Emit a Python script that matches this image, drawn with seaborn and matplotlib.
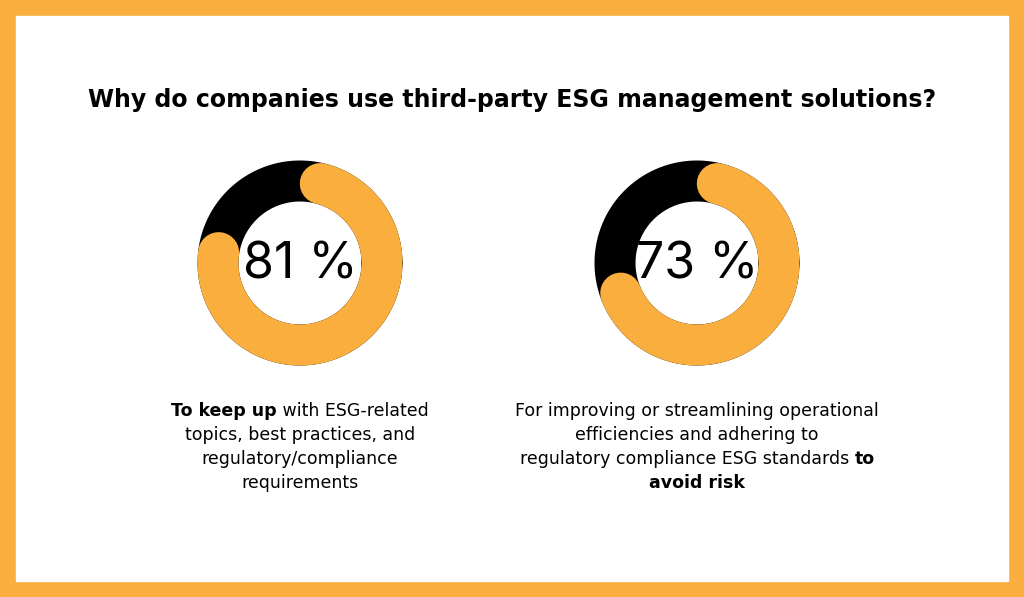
import matplotlib
matplotlib.use("Agg")
import matplotlib.pyplot as plt
import numpy as np
import seaborn as sns
from matplotlib.patches import Rectangle

sns.set_theme(style="white")
plt.rcParams["font.family"] = "DejaVu Sans"

title = "Why do companies use third-party ESG management solutions?"
values = [81, 73]
labels = ["81 %", "73 %"]
captions = [
    [[("To keep up", True), (" with ESG-related", False)],
     [("topics, best practices, and", False)],
     [("regulatory/compliance", False)],
     [("requirements", False)]],
    [[("For improving or streamlining operational", False)],
     [("efficiencies and adhering to", False)],
     [("regulatory compliance ESG standards ", False), ("to", True)],
     [("avoid risk", True)]],
]
centers_x = [300, 697]
ORANGE = "#F9AE3D"

fig = plt.figure(figsize=(10.24, 5.97), dpi=100)
ax = fig.add_axes([0, 0, 1, 1])
ax.set_xlim(0, 1024); ax.set_ylim(597, 0); ax.axis("off")
ax.add_patch(Rectangle((0, 0), 1024, 597, color=ORANGE, zorder=0))
ax.add_patch(Rectangle((16, 16), 992, 565, color="white", zorder=1))

ax.text(512, 100, title, ha="center", va="center", fontsize=17, fontweight="bold", color="black", zorder=5)

cy, rmid, width_px = 263, 82, 41
lw = width_px * 0.72
delta = np.degrees((width_px / 2) / rmid)
t = np.linspace(0, 2 * np.pi, 400)
for cx, v, lab in zip(centers_x, values, labels):
    ax.plot(cx + rmid * np.cos(t), cy - rmid * np.sin(t), color="black", lw=lw, zorder=2)
    a = np.radians(np.linspace(90 - delta, 90 - 360 * v / 100 + delta, 300))
    ax.plot(cx + rmid * np.cos(a), cy - rmid * np.sin(a), color=ORANGE, lw=lw,
            solid_capstyle="round", zorder=3)
    ax.text(cx, cy + 2, lab, ha="center", va="center", fontsize=36, family="Inter",
            fontweight="normal", color="black", zorder=5)

fig.canvas.draw()
r = fig.canvas.get_renderer()
for cx, lines in zip(centers_x, captions):
    for i, line in enumerate(lines):
        y = 411 + i * 24
        arts = [ax.text(0, y, s, fontsize=12.5, fontweight="bold" if b else "normal",
                        va="center", ha="left", color="black", zorder=5) for s, b in line]
        ws = [a.get_window_extent(r).width for a in arts]
        x = cx - sum(ws) / 2
        for a, w in zip(arts, ws):
            a.set_x(x); x += w

fig.savefig("out.png", dpi=100)
